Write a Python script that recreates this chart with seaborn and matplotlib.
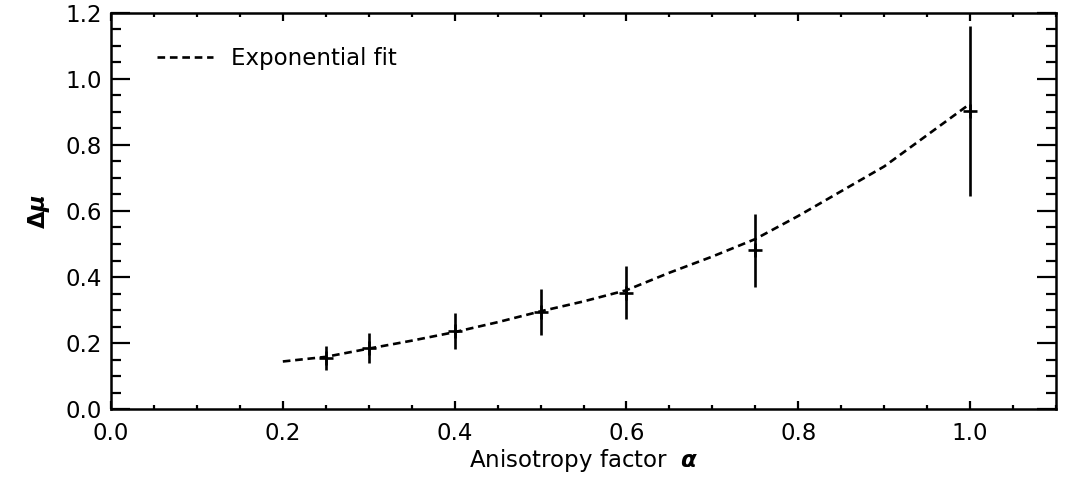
import numpy as np
import pandas as pd
import matplotlib
matplotlib.use("Agg")
import matplotlib.pyplot as plt
import seaborn as sns
from matplotlib.ticker import MultipleLocator

# Data
alpha = [0.25, 0.30, 0.40, 0.50, 0.60, 0.75, 1.00]
dmu = [0.155, 0.185, 0.237, 0.293, 0.352, 0.481, 0.903]
dmu_err = [0.036, 0.045, 0.055, 0.070, 0.080, 0.110, 0.257]

fit_alpha = [0.20, 0.25, 0.30, 0.35, 0.40, 0.45, 0.50, 0.55, 0.60, 0.65,
             0.70, 0.75, 0.80, 0.85, 0.90, 0.95, 1.00]
fit_dmu = [0.144, 0.158, 0.183, 0.207, 0.233, 0.263, 0.296, 0.326, 0.360, 0.413,
           0.462, 0.515, 0.585, 0.660, 0.735, 0.830, 0.925]

x_ticks = [0.0, 0.2, 0.4, 0.6, 0.8, 1.0]
y_ticks = [0.0, 0.2, 0.4, 0.6, 0.8, 1.0, 1.2]

sns.set_theme(style="ticks")
plt.rcParams['font.family'] = ['DejaVu Sans']
plt.rcParams['mathtext.fontset'] = 'dejavusans'
for k in ["text.color", "axes.labelcolor", "xtick.color", "ytick.color",
          "axes.edgecolor"]:
    plt.rcParams[k] = "black"

fig = plt.figure(figsize=(10.66, 4.78), dpi=100)
ax = fig.add_axes([111/1066, 1 - 409/478, 945/1066, 396/478])

fit_df = pd.DataFrame({"alpha": fit_alpha, "dmu": fit_dmu})
sns.lineplot(data=fit_df, x="alpha", y="dmu", ax=ax, color="black",
             linewidth=1.9, dashes=False, label="Exponential fit", sort=False)
ax.lines[-1].set_dashes((2.9, 1.8))

ax.errorbar(alpha, dmu, yerr=dmu_err, fmt="none", ecolor="black",
            elinewidth=1.9, capsize=0)
pts = pd.DataFrame({"alpha": alpha, "dmu": dmu})
sns.scatterplot(data=pts, x="alpha", y="dmu", ax=ax, marker="+", s=90,
                color="black", linewidth=1.9, legend=False, zorder=5)

ax.set_xlim(0.0, 1.1)
ax.set_ylim(0.0, 1.2)
ax.set_xticks(x_ticks)
ax.set_yticks(y_ticks)
ax.set_xticklabels([f"{v:.1f}" for v in x_ticks])
ax.set_yticklabels([f"{v:.1f}" for v in y_ticks])
ax.xaxis.set_minor_locator(MultipleLocator(0.05))
ax.yaxis.set_minor_locator(MultipleLocator(0.05))

fs = 16.5
ax.tick_params(axis="x", which="major", direction="in", length=5.8, width=1.6,
               top=True, bottom=True, labelsize=fs, pad=9, color="black",
               labelcolor="black")
ax.tick_params(axis="x", which="minor", direction="in", length=3.2, width=1.6,
               top=True, bottom=True, color="black")
ax.tick_params(axis="y", which="major", direction="in", length=13.5, width=1.6,
               left=True, right=True, labelsize=fs, pad=6.5, color="black",
               labelcolor="black")
ax.tick_params(axis="y", which="minor", direction="in", length=7.5, width=1.6,
               left=True, right=True, color="black")
for sp in ax.spines.values():
    sp.set_linewidth(1.8)
    sp.set_color("black")
    sp.set_visible(True)

ax.set_xlabel(r"Anisotropy factor  $\boldsymbol{\alpha}$", fontsize=fs,
              labelpad=2, color="black")
ax.set_ylabel(r"$\mathbf{\Delta}\boldsymbol{\mu}$", fontsize=fs, labelpad=10,
              color="black")

leg = ax.legend(loc="center left", bbox_to_anchor=(46/945, 1 - 46/396),
                frameon=False, fontsize=fs, handlelength=2.45,
                handletextpad=0.8, borderpad=0, borderaxespad=0)
for t in leg.get_texts():
    t.set_color("black")

fig.savefig("out.png", dpi=100, facecolor="white")
